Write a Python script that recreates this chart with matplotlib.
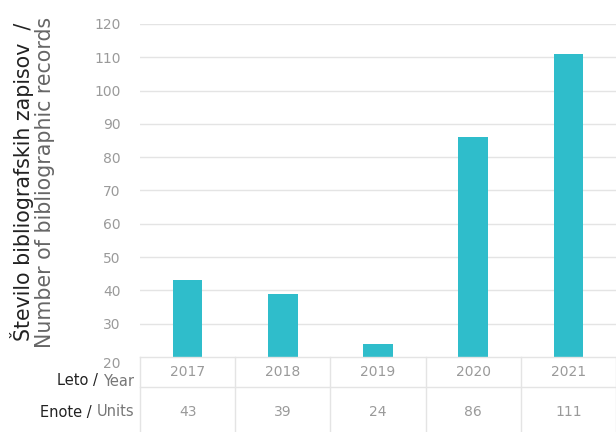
import numpy as np
import matplotlib.pyplot as plt
import matplotlib.transforms as mtransforms

# data
years = ["2017", "2018", "2019", "2020", "2021"]
units = [43, 39, 24, 86, 111]
y_ticks = [20, 30, 40, 50, 60, 70, 80, 90, 100, 110, 120]

plt.rcParams['font.family'] = ['DejaVu Sans']

bar_color = "#2fbdcb"
grid_color = "#e4e4e4"
tick_color = "#9a9a9a"

fig = plt.figure(figsize=(6.16, 4.32), dpi=100)
W, H = 616, 432
ax = fig.add_axes([140 / W, 1 - 357 / H, 1 - 140 / W, (357 - 24) / H])

x = np.arange(len(years))
ax.bar(x, [u - 20 for u in units], bottom=20, width=0.31, color=bar_color, zorder=3)
ax.set_xlim(-0.5, len(years) - 0.5)
ax.set_ylim(20, 120)
ax.set_yticks(y_ticks)
ax.set_yticklabels([str(t) for t in y_ticks], color=tick_color, fontsize=10)
ax.tick_params(axis='y', length=0, pad=14)
ax.get_yticklabels()[0].set_verticalalignment('top')
ax.set_xticks([])
for s in ax.spines.values():
    s.set_visible(False)
for t in y_ticks[1:]:
    ax.axhline(t, color=grid_color, lw=1, zorder=1)

# y label, two lines, two colours
fig.text(22 / W, 1 - 182 / H, "Število bibliografskih zapisov  /", rotation=90,
         ha='center', va='center', fontsize=14.8, color='#222222')
fig.text(45 / W, 1 - 182 / H, "Number of bibliographic records", rotation=90,
         ha='center', va='center', fontsize=14.8, color='#666666')

# table under the axes
trans = mtransforms.blended_transform_factory(ax.transData, fig.transFigure)
row1_top, row1_bot, row2_bot = 1 - 357 / H, 1 - 387 / H, 1 - 440 / H
line_kw = dict(color=grid_color, lw=1, transform=fig.transFigure)
fig.add_artist(plt.Line2D([140 / W, 1], [row1_top, row1_top], **line_kw))
fig.add_artist(plt.Line2D([140 / W, 1], [row1_bot, row1_bot], **line_kw))
for b in np.arange(len(years) + 1) - 0.5:
    fig.add_artist(plt.Line2D([b, b], [row2_bot, row1_top], color=grid_color, lw=1,
                              transform=trans))
for i, (yr, u) in enumerate(zip(years, units)):
    fig.text(i, 1 - 372 / H, yr, transform=trans, ha='center', va='center',
             fontsize=10, color=tick_color)
    fig.text(i, 1 - 412 / H, str(u), transform=trans, ha='center', va='center',
             fontsize=10, color=tick_color)

# row labels: gray English part right-aligned, black Slovene part placed before it
renderer = fig.canvas.get_renderer()
for yy, sl, en in [(381, "Leto / ", "Year"), (412, "Enote / ", "Units")]:
    t = fig.text(134 / W, 1 - yy / H, en, ha='right', va='center', fontsize=10.5, color='#777777')
    bb = t.get_window_extent(renderer)
    fig.text(bb.x0 / W, 1 - yy / H, sl, ha='right', va='center', fontsize=10.5, color='#222222')

fig.savefig("out.png", dpi=100)
